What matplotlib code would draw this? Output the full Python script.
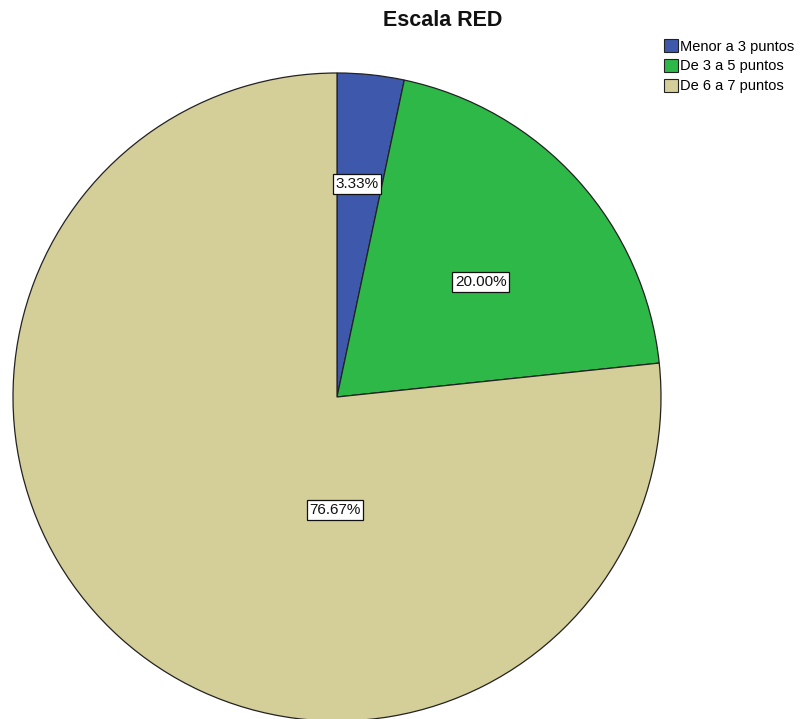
import matplotlib
matplotlib.use("Agg")
import matplotlib.pyplot as plt
from matplotlib.patches import Patch

plt.rcParams['font.family'] = ['Liberation Sans', 'DejaVu Sans']

categories = ["Menor a 3 puntos", "De 3 a 5 puntos", "De 6 a 7 puntos"]
percentages = [3.33, 20.00, 76.67]
colors = ["#3E58AC", "#2EB848", "#D4CE99"]

# label anchor points (fraction of radius), one per wedge
label_xy = [(0.062, 0.657), (0.444, 0.355), (-0.006, -0.349)]

W, H = 801, 719
fig = plt.figure(figsize=(W / 100, H / 100), dpi=100)
cx, cy, r = 337, 397, 324
ax = fig.add_axes([(cx - r) / W, (H - cy - r) / H, 2 * r / W, 2 * r / H])
ax.axis("off")

wedges, _ = ax.pie(percentages, colors=colors, startangle=90, counterclock=False,
                   radius=1, wedgeprops=dict(edgecolor="#222222", linewidth=0.9))
ax.set_xlim(-1, 1)
ax.set_ylim(-1, 1)

for (x, y), p in zip(label_xy, percentages):
    ax.text(x, y, f"{p:.2f}%", ha="center", va="center", fontsize=11, color="#111111",
            bbox=dict(boxstyle="square,pad=0.18", facecolor="white", edgecolor="#111111", linewidth=0.9))

fig.text(443 / W, 1 - 21 / H, "Escala RED", ha="center", va="center",
         fontsize=15.5, fontweight="bold", color="#111111")

handles = [Patch(facecolor=c, edgecolor="#222222", linewidth=0.8) for c in colors]
fig.legend(handles, categories, loc="upper left", bbox_to_anchor=(664 / W, 1 - 39 / H),
           frameon=False, fontsize=10.5, handlelength=0.95, handleheight=1.0,
           handletextpad=0.15, labelspacing=0.36, borderaxespad=0, borderpad=0)

fig.savefig("out.png", dpi=100)
